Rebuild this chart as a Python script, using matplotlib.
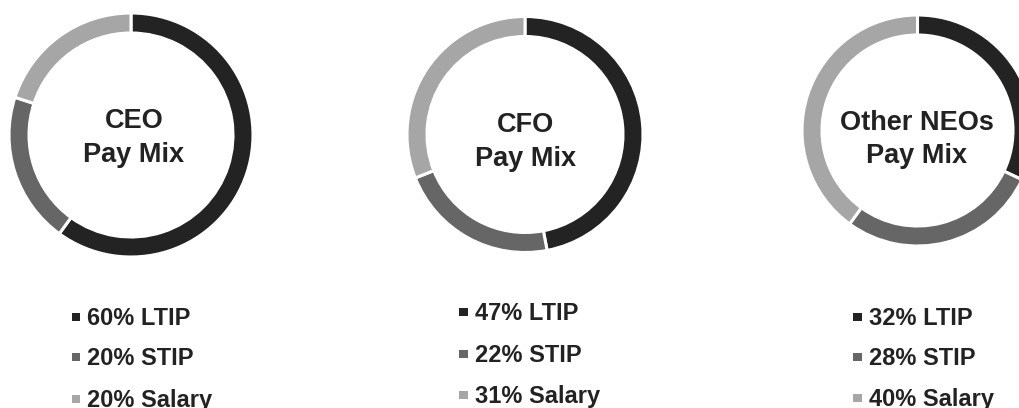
import matplotlib.pyplot as plt
from matplotlib.patches import Rectangle

plt.rcParams['font.family'] = ['Liberation Sans', 'DejaVu Sans']
plt.rcParams['font.weight'] = 'bold'

# data
roles = ["CEO", "CFO", "Other NEOs"]
components = ["LTIP", "STIP", "Salary"]
ceo_mix = [60, 20, 20]
cfo_mix = [47, 22, 31]
neo_mix = [32, 28, 40]
mixes = [ceo_mix, cfo_mix, neo_mix]

colors = ["#232323", "#666666", "#a6a6a6"]
txt_col = "#222222"

W, H = 1020, 408
fig = plt.figure(figsize=(W / 100, H / 100), dpi=100)
ax = fig.add_axes([0, 0, 1, 1])
ax.set_xlim(0, W)
ax.set_ylim(0, H)
ax.set_aspect("equal")
ax.axis("off")

# layout in pixels (x, y from top)
centers = [(131, 135), (525, 134.5), (917.5, 130.5)]
radii = [122, 118, 115.5]
ring = 20
title_x = [134, 526, 917]
title_base = [(128, 162), (132, 166), (130, 163)]
leg_sq_x = [76, 463.5, 857.5]
leg_txt_x = [87, 475, 869]
leg_base = [(325, 365, 407), (320, 362, 403), (325, 365, 406)]

def py(y):
    return H - y

for i, (role, vals) in enumerate(zip(roles, mixes)):
    cx, cy = centers[i]
    r = radii[i]
    ax.pie(vals, colors=colors, center=(cx, py(cy)), radius=r,
           startangle=90, counterclock=False,
           wedgeprops=dict(width=ring, edgecolor="white", linewidth=2.2))

    b1, b2 = title_base[i]
    ax.text(title_x[i], py(b1), role, ha="center", va="baseline",
            fontsize=19.5, fontweight="bold", color=txt_col)
    ax.text(title_x[i], py(b2), "Pay Mix", ha="center", va="baseline",
            fontsize=19.5, fontweight="bold", color=txt_col)

    # legend rows
    for j, (comp, v) in enumerate(zip(components, vals)):
        base = leg_base[i][j]
        sq = 8.5
        ax.add_patch(Rectangle((leg_sq_x[i] - sq / 2, py(base - 4)), sq, sq,
                               facecolor=colors[j], edgecolor="none"))
        ax.text(leg_txt_x[i], py(base), f"{v}% {comp}", ha="left",
                va="baseline", fontsize=17, fontweight="bold", color=txt_col)

ax.set_xlim(0, W)
ax.set_ylim(0, H)
fig.savefig("out.png", dpi=100)
